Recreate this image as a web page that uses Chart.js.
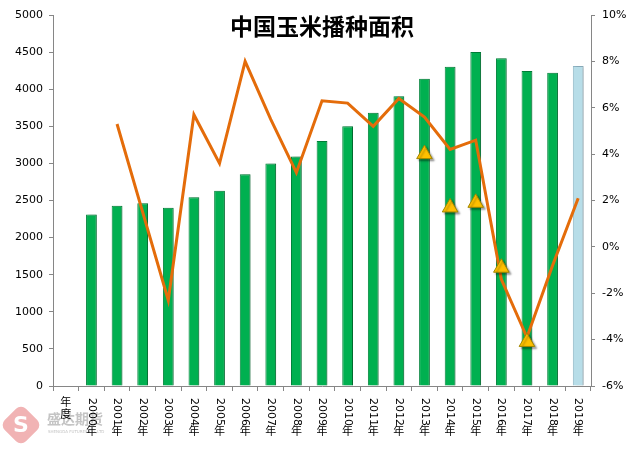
<!DOCTYPE html>
<html>
<head>
<meta charset="utf-8">
<script src="https://cdn.jsdelivr.net/npm/chart.js@4/dist/chart.umd.min.js"></script>
<style>
  html, body { margin: 0; padding: 0; background: #fff; }
  canvas { display: block; }
</style>
</head>
<body>
<canvas id="cornChart" width="641" height="454"></canvas>
<script>
const years = ['年度', '2000年', '2001年', '2002年', '2003年', '2004年', '2005年', '2006年', '2007年',
    '2008年', '2009年', '2010年', '2011年', '2012年', '2013年', '2014年', '2015年', '2016年',
    '2017年', '2018年', '2019年'];
// 播种面积 (万公顷)
const area = [null, 2313, 2430, 2462, 2403, 2543, 2633, 2855, 2999, 3094, 3302, 3500, 3681,
    3906, 4142, 4304, 4502, 4417, 4245, 4223, 4313];
// 同比增速 (%)
const growth = [null, null, 5.3, 1.5, -2.3, 5.7, 3.6, 8.0, 5.5, 3.2, 6.3, 6.2, 5.2, 6.4, 5.6,
    4.2, 4.6, -1.4, -3.9, -0.8, 2.1];
const markers = [null, null, null, null, null, null, null, null, null, null, null, null, null,
    null, 4.0, 1.7, 1.9, -0.9, -4.1, null, null];
const leftTicks = [0, 5000, 500];
const rightTicks = [-6, 10, 2];

const AXIS = '#868686';
const FONT = '"DejaVu Sans", "Noto Sans CJK SC", sans-serif';

const barColors = area.map((v, i) => i === area.length - 1 ? '#b7dde8' : '#00b050');
const barBorders = area.map((v, i) => i === area.length - 1 ? '#8fb4c4' : '#00833a');

// title, watermark and the vertical (East Asian style) category labels
const decor = {
    id: 'decor',
    beforeDraw(chart) {
        const ctx = chart.ctx;
        ctx.save();
        ctx.globalAlpha = 0.75;
        ctx.translate(21, 425);
        ctx.rotate(Math.PI / 4);
        ctx.fillStyle = '#ec9a9b';
        ctx.beginPath();
        ctx.roundRect(-15, -15, 30, 30, 7);
        ctx.fill();
        ctx.restore();
        ctx.save();
        ctx.fillStyle = '#fff';
        ctx.font = 'bold 22px "DejaVu Sans"';
        ctx.textAlign = 'center';
        ctx.textBaseline = 'middle';
        ctx.fillText('S', 21, 426);
        ctx.fillStyle = '#c4c4c4';
        ctx.font = 'bold 14px "Noto Sans CJK SC"';
        ctx.textAlign = 'left';
        ctx.fillText('盛达期货', 47, 419);
        ctx.font = '4px "DejaVu Sans"';
        ctx.fillText('SHENGDA FUTURES CO.,LTD', 48, 432);
        ctx.restore();
    },
    beforeDatasetDraw(chart, args) {
        if (args.index === 2 || args.index === 0) {
            const ctx = chart.ctx;
            ctx.save();
            ctx.shadowColor = args.index === 2 ? 'rgba(0,0,0,0.35)' : 'rgba(0,0,0,0.2)';
            ctx.shadowOffsetX = 2;
            ctx.shadowOffsetY = args.index === 2 ? 2 : 0;
            ctx.shadowBlur = 2;
        }
    },
    afterDatasetDraw(chart, args) {
        if (args.index === 2 || args.index === 0) chart.ctx.restore();
    },
    afterDraw(chart) {
        const ctx = chart.ctx;
        const x = chart.scales.x;
        const top = chart.chartArea.bottom + 12;
        ctx.save();
        ctx.fillStyle = '#000';
        ctx.font = '11px ' + FONT;
        years.forEach((lab, i) => {
            const px = x.getPixelForTick(i);
            ctx.textAlign = 'center';
            ctx.textBaseline = 'middle';
            if (lab === '年度') {
                ctx.fillText('年', px, top + 5);
                ctx.fillText('度', px, top + 17);
                return;
            }
            const digits = lab.slice(0, -1);
            const w = ctx.measureText(digits).width;
            ctx.save();
            ctx.translate(px, top);
            ctx.rotate(Math.PI / 2);
            ctx.textAlign = 'left';
            ctx.fillText(digits, 0, 0);
            ctx.restore();
            ctx.fillText('年', px, top + w + 6);
        });
        ctx.font = 'bold 23px "Noto Sans CJK SC"';
        ctx.textAlign = 'center';
        ctx.textBaseline = 'middle';
        ctx.fillText('中国玉米播种面积', 322, 26);
        ctx.restore();
    }
};

new Chart(document.getElementById('cornChart').getContext('2d'), {
    type: 'bar',
    data: {
        labels: years,
        datasets: [{
            type: 'bar',
            label: '播种面积',
            data: area,
            yAxisID: 'y',
            backgroundColor: barColors,
            borderColor: barBorders,
            borderWidth: 1,
            barPercentage: 0.42,
            categoryPercentage: 1,
            order: 3
        }, {
            type: 'line',
            label: '同比',
            data: growth,
            yAxisID: 'y1',
            borderColor: '#e46c0a',
            borderWidth: 3,
            pointRadius: 0,
            tension: 0,
            fill: false,
            order: 2
        }, {
            type: 'line',
            label: '标记',
            data: markers,
            yAxisID: 'y1',
            showLine: false,
            pointStyle: 'triangle',
            pointRadius: 9,
            backgroundColor: '#ffc000',
            borderColor: '#a08600',
            borderWidth: 1,
            order: 1
        }]
    },
    options: {
        responsive: false,
        animation: false,
        layout: { padding: { top: 15, left: 0, right: 0, bottom: 0 } },
        plugins: {
            legend: { display: false },
            tooltip: { enabled: false },
            title: { display: false }
        },
        scales: {
            x: {
                grid: { display: true, drawOnChartArea: false, tickLength: 5, color: AXIS, offset: true },
                border: { display: true, color: AXIS },
                ticks: { display: false },
                afterFit(s) { s.height = 68; }
            },
            y: {
                position: 'left',
                min: leftTicks[0],
                max: leftTicks[1],
                ticks: {
                    stepSize: leftTicks[2], padding: 6, color: '#000', font: { family: FONT, size: 11 },
                    callback: v => String(v)
                },
                grid: { display: true, drawOnChartArea: false, tickLength: 4, color: AXIS },
                border: { display: true, color: AXIS },
                afterFit(s) { s.width = 53; }
            },
            y1: {
                position: 'right',
                min: rightTicks[0],
                max: rightTicks[1],
                ticks: {
                    stepSize: rightTicks[2], padding: 7, color: '#000', font: { family: FONT, size: 11 },
                    callback: v => v + '%'
                },
                grid: { display: true, drawOnChartArea: false, tickLength: 4, color: AXIS },
                border: { display: true, color: AXIS },
                afterFit(s) { s.width = 50; }
            }
        }
    },
    plugins: [decor]
});
</script>
</body>
</html>
